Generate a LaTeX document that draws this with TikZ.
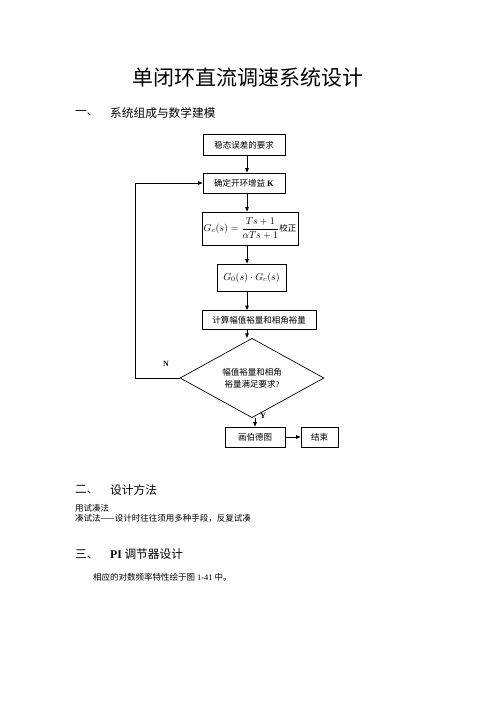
\documentclass[tikz,border=0pt]{standalone}
\usepackage{amsmath}
\usepackage[no-math]{fontspec}
\setmainfont{Noto Sans CJK SC}
\newfontfamily\lat{Liberation Serif}
\usetikzlibrary{shapes.geometric,arrows.meta}

\begin{document}
\begin{tikzpicture}[x=1pt, y=-1pt,
	box/.style = {draw, line width=0.7pt, inner sep=1pt, minimum height=20pt, font=\fontsize{8.5}{10}\selectfont},
	decide/.style = {draw, diamond, line width=0.7pt, inner sep=0pt, minimum width=144pt, minimum height=57pt, align=center, font=\fontsize{8.5}{12}\selectfont},
	flow/.style = {line width=0.8pt, -{Triangle[length=4.5pt, width=3.5pt]}},
	txt/.style = {anchor=west, inner sep=0pt, font=\fontsize{8.5}{10}\selectfont},
	head/.style = {anchor=west, inner sep=0pt, font=\fontsize{11.7}{14}\selectfont}]
	\useasboundingbox (0,0) rectangle (496,702);

	\node (title) at (247.5,78) {\fontsize{21}{24}\selectfont 单闭环直流调速系统设计};
	\node[head] (h1num) at (75,113) {一、};
	\node[head] (h1) at (110,113) {系统组成与数学建模};

	\node[box, minimum width=82pt, minimum height=21pt] (req) at (244,145) {稳态误差的要求};
	\node[box, minimum width=82pt] (gain) at (244,183) {确定开环增益 {\lat\bfseries K}};
	\node[box, minimum width=96pt, minimum height=33pt, font=\fontsize{10}{12}\selectfont] (corr) at (250,228.5)
		{$G_c(s)=\dfrac{Ts+1}{\alpha Ts+1}$\fontsize{8.5}{10}\selectfont 校正};
	\node[box, minimum width=69pt, minimum height=27pt, font=\fontsize{10}{12}\selectfont] (prod) at (251.5,277.5) {$G_0(s)\cdot G_c(s)$};
	\node[box, minimum width=114pt, minimum height=19pt] (margin) at (259,320) {计算幅值裕量和相角裕量};
	\node[decide] (check) at (252,378) {幅值裕量和相角\\裕量满足要求{\lat ?}};
	\node[box, minimum width=60pt] (bode) at (255,437) {画伯德图};
	\node[box, minimum width=37pt] (stop) at (319.5,437) {结束};

	\coordinate (ax) at (247,0);
	\coordinate (loop) at (135,378);
	\draw[flow] (req.south -| ax) -- (gain.north -| ax);
	\draw[flow] (gain.south -| ax) -- (corr.north -| ax);
	\draw[flow] (corr.south -| ax) -- (prod.north -| ax);
	\draw[flow] (prod.south -| ax) -- (margin.north -| ax);
	\draw[flow] (margin.south -| ax) -- (check.north -| ax);
	\draw[flow] (check.south -| bode.north) -- (bode.north);
	\draw[flow] (bode) -- (stop);
	\draw[flow] (check.west) -- (loop) |- (gain.west);
	\node[font=\lat\bfseries\fontsize{8}{10}\selectfont] (no) at (166,364) {N};
	\node[font=\lat\bfseries\fontsize{8}{10}\selectfont] (yes) at (263,416) {Y};

	\node[head] (h2num) at (75,490) {二、};
	\node[head] (h2) at (110,490) {设计方法};
	\node[txt] (l1) at (75,508.5) {用试凑法};
	\node[txt] (l2) at (75,518) {凑试法——设计时往往须用多种手段，反复试凑};

	\node[head] (h3num) at (75,554) {三、};
	\node[head] (h3) at (110,554) {{\lat\bfseries PI} 调节器设计};
	\node[txt] (l3) at (93,577) {相应的对数频率特性绘于图 {\lat 1-41} 中。};
\end{tikzpicture}
\end{document}
